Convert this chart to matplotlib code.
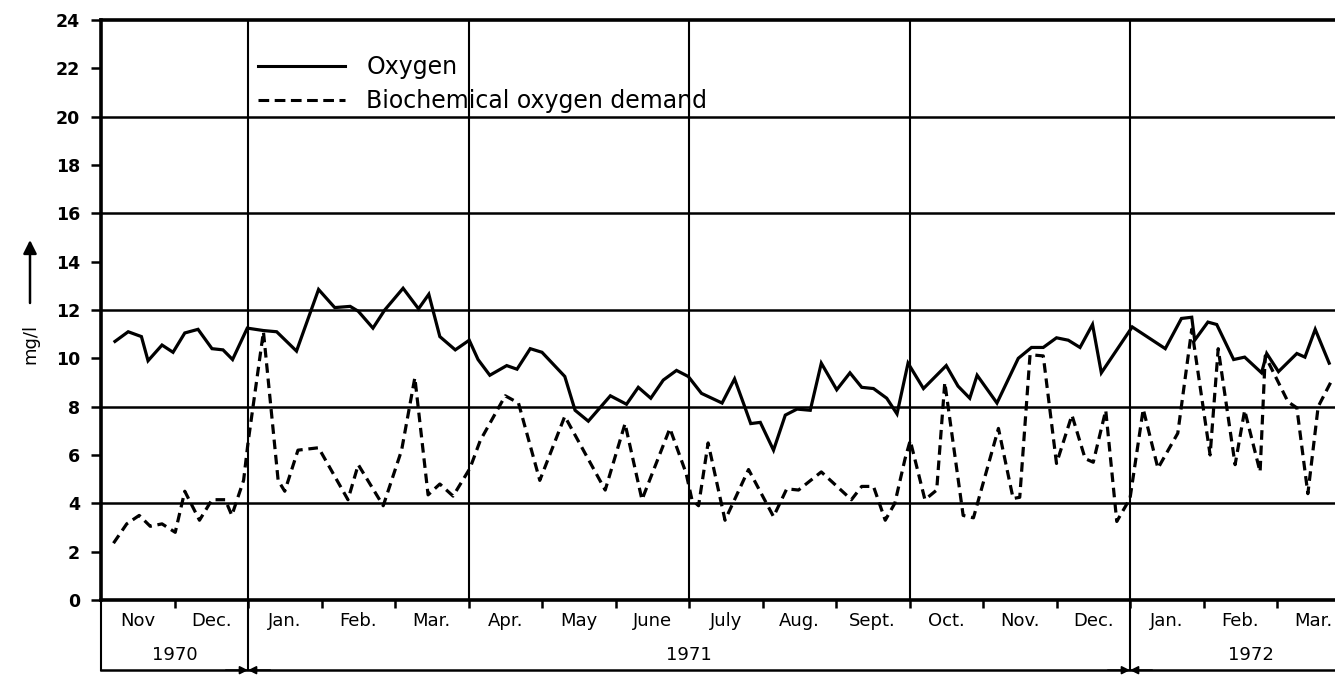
import matplotlib
matplotlib.use("Agg")
import matplotlib.pyplot as plt
from matplotlib.lines import Line2D
import numpy as np

# months counted from 1 Nov 1970
oxy_month = [0.19, 0.37, 0.55, 0.64, 0.83, 0.98, 1.14, 1.32, 1.51, 1.66,
             1.79, 1.99, 2.21, 2.39, 2.66, 2.96, 3.18, 3.39, 3.50, 3.70,
             3.86, 4.11, 4.32, 4.46, 4.61, 4.82, 5.01, 5.13, 5.29, 5.52,
             5.66, 5.84, 6.00, 6.31, 6.45, 6.63, 6.93, 7.15, 7.31, 7.48,
             7.65, 7.83, 7.99, 8.17, 8.45, 8.62, 8.74, 8.84, 8.97, 9.15,
             9.31, 9.47, 9.65, 9.80, 10.01, 10.19, 10.35, 10.51, 10.69, 10.83,
             10.98, 11.19, 11.50, 11.66, 11.82, 11.92, 12.19, 12.48, 12.66, 12.82,
             13.00, 13.16, 13.32, 13.49, 13.61, 14.03, 14.48, 14.70, 14.84, 14.88,
             15.06, 15.18, 15.41, 15.56, 15.79, 15.86, 16.02, 16.27, 16.38, 16.52,
             16.71]
oxygen = [10.7, 11.1, 10.9, 9.9, 10.55, 10.25, 11.05, 11.2, 10.4, 10.35,
          9.95, 11.25, 11.15, 11.1, 10.3, 12.85, 12.1, 12.15, 11.95, 11.25,
          12.0, 12.9, 12.05, 12.65, 10.9, 10.35, 10.75, 9.95, 9.3, 9.7,
          9.55, 10.4, 10.25, 9.25, 7.85, 7.4, 8.45, 8.1, 8.8, 8.35,
          9.1, 9.5, 9.25, 8.55, 8.15, 9.15, 8.15, 7.3, 7.35, 6.2,
          7.65, 7.9, 7.85, 9.8, 8.7, 9.4, 8.8, 8.75, 8.35, 7.7,
          9.8, 8.75, 9.7, 8.85, 8.35, 9.3, 8.15, 10.0, 10.45, 10.45,
          10.85, 10.75, 10.45, 11.4, 9.4, 11.3, 10.4, 11.65, 11.7, 10.75,
          11.5, 11.4, 9.95, 10.05, 9.4, 10.2, 9.45, 10.2, 10.05, 11.2,
          9.8]

bod_month = [0.17, 0.35, 0.52, 0.67, 0.83, 1.01, 1.14, 1.34, 1.51, 1.69,
             1.78, 1.94, 2.00, 2.21, 2.41, 2.50, 2.68, 2.96, 3.36, 3.50,
             3.84, 4.09, 4.27, 4.45, 4.61, 4.79, 5.02, 5.16, 5.50, 5.68,
             5.97, 6.31, 6.86, 7.13, 7.36, 7.74, 7.96, 8.04, 8.13, 8.26,
             8.49, 8.81, 9.15, 9.33, 9.49, 9.80, 10.21, 10.35, 10.51, 10.67,
             10.80, 10.94, 11.01, 11.21, 11.37, 11.48, 11.73, 11.87, 12.21, 12.41,
             12.50, 12.64, 12.82, 13.00, 13.21, 13.39, 13.50, 13.67, 13.82, 14.00,
             14.18, 14.38, 14.65, 14.84, 15.09, 15.20, 15.43, 15.56, 15.77, 15.84,
             16.15, 16.27, 16.42, 16.56, 16.73]
bod = [2.35, 3.15, 3.5, 3.05, 3.15, 2.8, 4.5, 3.3, 4.15, 4.15,
       3.5, 4.95, 6.5, 11.1, 4.95, 4.5, 6.2, 6.3, 4.15, 5.6,
       3.9, 6.2, 9.2, 4.35, 4.8, 4.3, 5.45, 6.6, 8.45, 8.15,
       4.95, 7.6, 4.55, 7.3, 4.15, 7.1, 5.25, 4.15, 3.9, 6.5,
       3.3, 5.4, 3.45, 4.6, 4.55, 5.3, 4.15, 4.7, 4.7, 3.3,
       4.0, 5.85, 6.6, 4.15, 4.55, 9.0, 3.5, 3.4, 7.1, 4.2,
       4.25, 10.15, 10.1, 5.65, 7.65, 5.85, 5.7, 7.85, 3.25, 4.2,
       7.9, 5.45, 6.9, 11.2, 6.0, 10.4, 5.6, 7.85, 5.3, 10.1,
       8.2, 7.95, 4.4, 8.0, 9.0]

month_labels = ["Nov", "Dec.", "Jan.", "Feb.", "Mar.", "Apr.", "May", "June",
                "July", "Aug.", "Sept.", "Oct.", "Nov.", "Dec.", "Jan.", "Feb.", "Mar."]
years = ["1970", "1971", "1972"]
year_start = [0, 2, 14]
year_end = [2, 14, 17.3]

W, H = 1335, 675
fig = plt.figure(figsize=(W / 100, H / 100), dpi=100)
ax = fig.add_axes([101 / W, 75 / H, (W - 101) / W, 580 / H])

x_max = (W - 101) / 73.5
ax.set_xlim(0, x_max)
ax.set_ylim(0, 24)

# grid
for yv in np.arange(4, 24, 4):
    ax.axhline(yv, color="k", lw=1.8, zorder=1)
for xv in range(2, 17, 3):
    ax.axvline(xv, color="k", lw=1.5, zorder=1)

ax.plot(oxy_month, oxygen, color="k", lw=2.3, solid_joinstyle="miter", zorder=3)
ax.plot(bod_month, bod, color="k", lw=2.3, linestyle=(0, (3.0, 1.8)), zorder=3)

for s in ["left", "bottom", "top"]:
    ax.spines[s].set_linewidth(2.6)
ax.spines["right"].set_visible(False)

ax.set_yticks(np.arange(0, 25, 2))
ax.set_yticklabels([str(v) for v in range(0, 25, 2)])
ax.tick_params(axis="y", length=7, width=1.8, pad=8, labelsize=12.5)
for t in ax.get_yticklabels():
    t.set_fontweight("bold")

ax.set_xticks(np.arange(len(month_labels)) + 0.5)
ax.set_xticklabels(month_labels, fontsize=13)
ax.set_xticks(np.arange(1, len(month_labels)), minor=True)
ax.tick_params(axis="x", which="major", length=0, pad=9)
ax.tick_params(axis="x", which="minor", length=6, width=1.8, direction="out")

# year band below the months
tr = ax.get_xaxis_transform()
band_y = -0.121
for xs in year_start:
    ax.plot([xs, xs], [0, band_y], transform=tr, color="k", lw=1.5, clip_on=False)
ax.plot([0, x_max], [band_y, band_y], transform=tr, color="k", lw=1.8, clip_on=False)
for name, a, b in zip(years, year_start, year_end):
    ax.text((a + b) / 2, -0.094, name, transform=tr, ha="center", va="center",
            fontsize=13)
for xs in year_start[1:]:
    for off in (-16, 16):
        ax.annotate("", xy=(xs, band_y), xycoords=tr,
                    xytext=(off, 0), textcoords="offset points",
                    arrowprops=dict(arrowstyle="-|>", color="k", lw=1.2,
                                    mutation_scale=12, shrinkA=0, shrinkB=0))

# y label with arrow
fig.text(30 / W, 1 - 344 / H, "mg/l", rotation=90, ha="center", va="center",
         fontsize=13)
ax.annotate("", xy=(30, H - 240), xycoords="figure pixels",
            xytext=(30, H - 303), textcoords="figure pixels",
            arrowprops=dict(arrowstyle="-|>", color="k", lw=1.8,
                            mutation_scale=20, shrinkA=0, shrinkB=0))

handles = [Line2D([], [], color="k", lw=2.2),
           Line2D([], [], color="k", lw=2.2, linestyle=(0, (3.5, 1.8)))]
ax.legend(handles, ["Oxygen", "Biochemical oxygen demand"],
          loc="upper left", bbox_to_anchor=(0.127, 0.94), frameon=False,
          fontsize=17, handlelength=3.7, handletextpad=0.9,
          borderpad=0, borderaxespad=0, labelspacing=0.45)

fig.savefig("out.png", dpi=100)
